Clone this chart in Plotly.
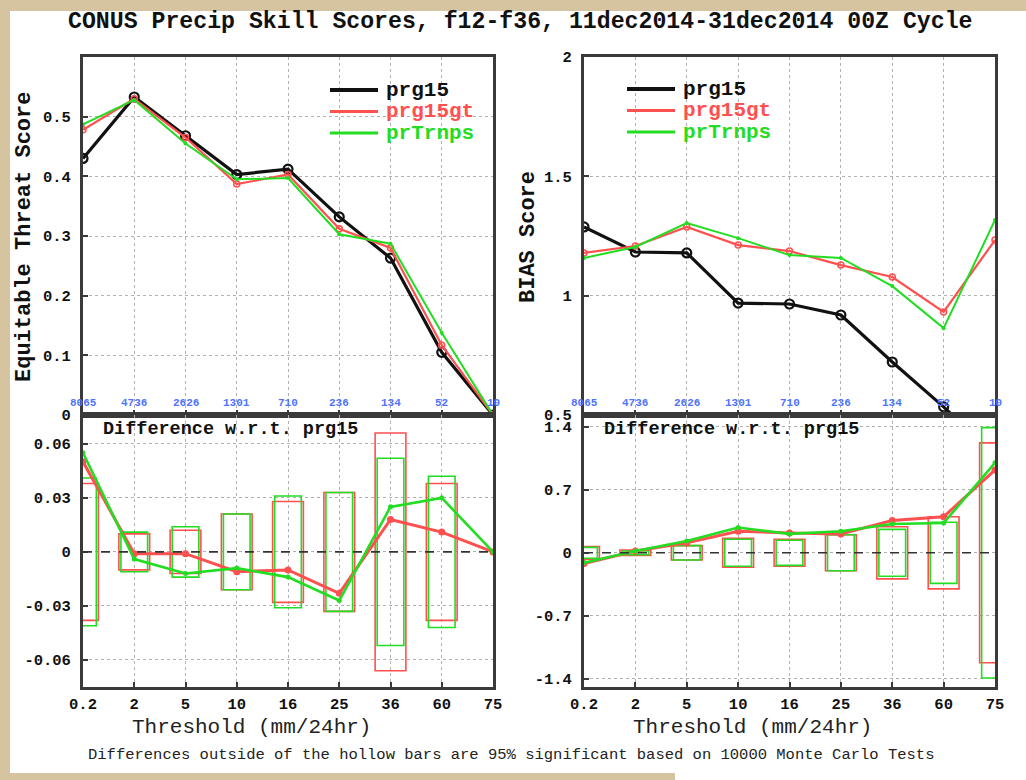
import plotly.graph_objects as go

# ---- data -------------------------------------------------------------
thresholds = ["0.2", "2", "5", "10", "16", "25", "36", "60", "75"]
obs_counts = ["8065", "4736", "2626", "1301", "710", "236", "134", "52", "10"]

ets_prg15 = [0.430, 0.533, 0.468, 0.403, 0.412, 0.332, 0.263, 0.105, 0.0]
ets_prg15gt = [0.478, 0.530, 0.465, 0.387, 0.403, 0.312, 0.280, 0.117, 0.0]
ets_prtrnps = [0.487, 0.528, 0.455, 0.395, 0.397, 0.303, 0.287, 0.138, 0.0]

bias_prg15 = [1.288, 1.183, 1.179, 0.969, 0.965, 0.919, 0.722, 0.534, 0.33]
bias_prg15gt = [1.179, 1.208, 1.288, 1.212, 1.187, 1.128, 1.078, 0.932, 1.233]
bias_prtrnps = [1.158, 1.204, 1.304, 1.241, 1.170, 1.158, 1.040, 0.864, 1.317]

# differences relative to prg15
ets_diff_prg15gt = [0.050, -0.001, -0.001, -0.011, -0.010, -0.023, 0.018, 0.011, 0.0]
ets_diff_prtrnps = [0.055, -0.004, -0.012, -0.009, -0.014, -0.027, 0.025, 0.030, 0.0]
bias_diff_prg15gt = [-0.12, 0.02, 0.11, 0.24, 0.22, 0.21, 0.36, 0.40, 0.92]
bias_diff_prtrnps = [-0.11, 0.02, 0.13, 0.28, 0.21, 0.24, 0.32, 0.33, 1.00]

# half-heights of the 95% significance (hollow) bars
ets_sig_prg15gt = [0.038, 0.010, 0.012, 0.021, 0.028, 0.033, 0.066, 0.038, None]
ets_sig_prtrnps = [0.041, 0.011, 0.014, 0.021, 0.031, 0.033, 0.052, 0.042, None]
bias_sig_prg15gt = [0.07, 0.03, 0.08, 0.16, 0.15, 0.20, 0.29, 0.40, 1.22]
bias_sig_prtrnps = [0.06, 0.02, 0.08, 0.15, 0.14, 0.20, 0.26, 0.34, 1.39]

series_names = ["prg15", "prg15gt", "prTrnps"]

# ---- styling ------------------------------------------------------------
W, H = 1026, 780
BLACK, RED, GREEN = "#111111", "#ff5050", "#22dd22"
SERIES_COLORS = [BLACK, RED, GREEN]
SERIES_WIDTHS = [3.2, 2.2, 2.0]
COUNT_BLUE = "#4f73ff"
TAN = "#d6c3a0"
FONT = "Liberation Mono"
xs = list(range(len(thresholds)))


def px_x(p):
    return p / W


def px_y(p):
    return 1 - p / H


LEFT = [px_x(83), px_x(493)]
RIGHT = [px_x(584), px_x(995)]
TOP = [px_y(415), px_y(57)]
BOTTOM = [px_y(687), px_y(415)]

fig = go.Figure()


def line_trace(x, y, color, width, axis, marker):
    return go.Scatter(
        x=x, y=y, mode="lines+markers", xaxis="x" + axis, yaxis="y" + axis,
        line=dict(color=color, width=width), marker=marker,
        showlegend=False, hoverinfo="skip",
    )


def sig_bars(half, color, width, axis):
    return go.Bar(
        x=xs, y=[None if h is None else 2 * h for h in half],
        base=[None if h is None else -h for h in half],
        width=width, xaxis="x" + axis, yaxis="y" + axis,
        marker=dict(color="rgba(0,0,0,0)", line=dict(color=color, width=1.6)),
        showlegend=False, hoverinfo="skip",
    )


open_black = dict(symbol="circle-open", size=9, color=BLACK, line=dict(width=2.2))
open_red = dict(symbol="circle-open", size=6, color=RED, line=dict(width=1.5))
small_green = dict(symbol="circle", size=4, color=GREEN)

# top-left: ETS
fig.add_trace(line_trace(xs, ets_prg15, BLACK, 3.2, "", open_black))
fig.add_trace(line_trace(xs, ets_prg15gt, RED, 2.2, "", open_red))
fig.add_trace(line_trace(xs, ets_prtrnps, GREEN, 2.0, "", small_green))

# top-right: BIAS
fig.add_trace(line_trace(xs, bias_prg15, BLACK, 3.2, "2", open_black))
fig.add_trace(line_trace(xs, bias_prg15gt, RED, 2.2, "2", open_red))
fig.add_trace(line_trace(xs, bias_prtrnps, GREEN, 2.0, "2", small_green))

# bottom-left: ETS differences with hollow significance bars
fig.add_trace(sig_bars(ets_sig_prg15gt, RED, 0.6, "3"))
fig.add_trace(sig_bars(ets_sig_prtrnps, GREEN, 0.52, "3"))
fig.add_trace(line_trace(xs, ets_diff_prg15gt, RED, 3.0, "3",
                         dict(symbol="circle", size=7, color=RED)))
fig.add_trace(line_trace(xs, ets_diff_prtrnps, GREEN, 2.6, "3",
                         dict(symbol="circle", size=5, color=GREEN)))

# bottom-right: BIAS differences with hollow significance bars
fig.add_trace(sig_bars(bias_sig_prg15gt, RED, 0.6, "4"))
fig.add_trace(sig_bars(bias_sig_prtrnps, GREEN, 0.52, "4"))
fig.add_trace(line_trace(xs, bias_diff_prg15gt, RED, 3.0, "4",
                         dict(symbol="circle", size=7, color=RED)))
fig.add_trace(line_trace(xs, bias_diff_prtrnps, GREEN, 2.6, "4",
                         dict(symbol="circle", size=5, color=GREEN)))

frame = dict(
    showline=True, linecolor="#3a3a3a", linewidth=3, mirror=True,
    ticks="inside", ticklen=5, tickwidth=1.5, tickcolor="#3a3a3a",
    showgrid=True, gridcolor="#b0b0b0", griddash="dot", gridwidth=1,
    zeroline=False, fixedrange=True, automargin=False,
    tickfont=dict(family=FONT, size=15.5, color="#111", weight="bold"),
)


def x_axis(domain, anchor, labels):
    ax = dict(frame, domain=domain, anchor=anchor, range=[0, 8],
              tickmode="array", tickvals=xs)
    if labels:
        ax.update(ticktext=thresholds, ticklabelstandoff=0)
    else:
        ax.update(ticktext=[""] * len(xs))
    return ax


def y_axis(domain, anchor, rng, ticks, labels):
    return dict(frame, domain=domain, anchor=anchor, range=rng,
                tickmode="array", tickvals=ticks, ticktext=labels,
                ticklabelstandoff=6)


fig.update_layout(
    width=W, height=H, autosize=False,
    margin=dict(l=0, r=0, t=0, b=0, pad=0, autoexpand=False),
    paper_bgcolor=TAN,
    plot_bgcolor="white",
    barmode="overlay",
    showlegend=False,
    xaxis=x_axis(LEFT, "y", False),
    yaxis=y_axis(TOP, "x", [0, 0.6], [0, 0.1, 0.2, 0.3, 0.4, 0.5],
                 ["0", "0.1", "0.2", "0.3", "0.4", "0.5"]),
    xaxis2=x_axis(RIGHT, "y2", False),
    yaxis2=y_axis(TOP, "x2", [0.5, 2.0], [0.5, 1.0, 1.5, 2.0],
                  ["0.5", "1", "1.5", "2"]),
    xaxis3=x_axis(LEFT, "y3", True),
    yaxis3=y_axis(BOTTOM, "x3", [-0.075, 0.076], [-0.06, -0.03, 0, 0.03, 0.06],
                  ["-0.06", "-0.03", "0", "0.03", "0.06"]),
    xaxis4=x_axis(RIGHT, "y4", True),
    yaxis4=y_axis(BOTTOM, "x4", [-1.49, 1.53], [-1.4, -0.7, 0, 0.7, 1.4],
                  ["-1.4", "-0.7", "0", "0.7", "1.4"]),
)

# page background: white sheet on a tan border
fig.add_shape(type="rect", xref="paper", yref="paper", layer="below",
              x0=px_x(10), x1=1, y0=0, y1=px_y(11),
              line=dict(width=0), fillcolor="white")
fig.add_shape(type="rect", xref="paper", yref="paper", layer="below",
              x0=0, x1=px_x(675), y0=0, y1=px_y(773),
              line=dict(width=0), fillcolor=TAN)

# dashed zero lines in the difference panels
for ax in ("3", "4"):
    fig.add_shape(type="line", xref=f"x{ax} domain", yref=f"y{ax}",
                  x0=0, x1=1, y0=0, y1=0,
                  line=dict(color="#333", width=1.6, dash="dash"))

# legend keys drawn inside the upper panels
for lx, ty in ((330, 90), (627, 89)):
    for i, (name, color, width) in enumerate(zip(series_names, SERIES_COLORS, SERIES_WIDTHS)):
        yy = px_y(ty + 21.5 * i)
        fig.add_shape(type="line", xref="paper", yref="paper",
                      x0=px_x(lx), x1=px_x(lx + 48), y0=yy, y1=yy,
                      line=dict(color=color, width=width + 0.8))
        fig.add_annotation(x=px_x(lx + 54), y=yy, xref="paper", yref="paper",
                           text=name, showarrow=False, xanchor="left", yanchor="middle",
                           font=dict(family=FONT, size=21, color=color, weight="bold"))

# observation counts along the bottom of the upper panels
for ax in ("", "2"):
    for x, c in zip(xs, obs_counts):
        fig.add_annotation(x=x, y=0.033, xref=f"x{ax}", yref=f"y{ax} domain",
                           text=c, showarrow=False, yanchor="middle",
                           font=dict(family=FONT, size=11, color=COUNT_BLUE, weight="bold"))

# panel captions
for ax in ("3", "4"):
    fig.add_annotation(x=0.045, y=0.945, xref=f"x{ax} domain", yref=f"y{ax} domain",
                       text="Difference w.r.t. prg15", showarrow=False,
                       xanchor="left", yanchor="middle",
                       font=dict(family=FONT, size=18.5, color="#111", weight="bold"))

# axis titles
for xc, yc, txt in ((24, 237, "Equitable Threat Score"), (528, 237, "BIAS Score")):
    fig.add_annotation(x=px_x(xc), y=px_y(yc), xref="paper", yref="paper",
                       text=txt, textangle=-90, showarrow=False,
                       xanchor="center", yanchor="middle",
                       font=dict(family=FONT, size=22, color="#111", weight="bold"))
for xc in (251, 752):
    fig.add_annotation(x=px_x(xc), y=px_y(727), xref="paper", yref="paper",
                       text="Threshold (mm/24hr)", showarrow=False,
                       xanchor="center", yanchor="middle",
                       font=dict(family=FONT, size=21, color="#222"))

fig.add_annotation(x=px_x(520), y=px_y(22), xref="paper", yref="paper",
                   text="CONUS Precip Skill Scores, f12-f36, 11dec2014-31dec2014 00Z Cycle",
                   showarrow=False, xanchor="center", yanchor="middle",
                   font=dict(family=FONT, size=23.2, color="#111", weight="bold"))
fig.add_annotation(x=px_x(511), y=px_y(755), xref="paper", yref="paper",
                   text="Differences outside of the hollow bars are 95% significant "
                        "based on 10000 Monte Carlo Tests",
                   showarrow=False, xanchor="center", yanchor="middle",
                   font=dict(family=FONT, size=15.5, color="#222"))

fig.write_html("out.html")
